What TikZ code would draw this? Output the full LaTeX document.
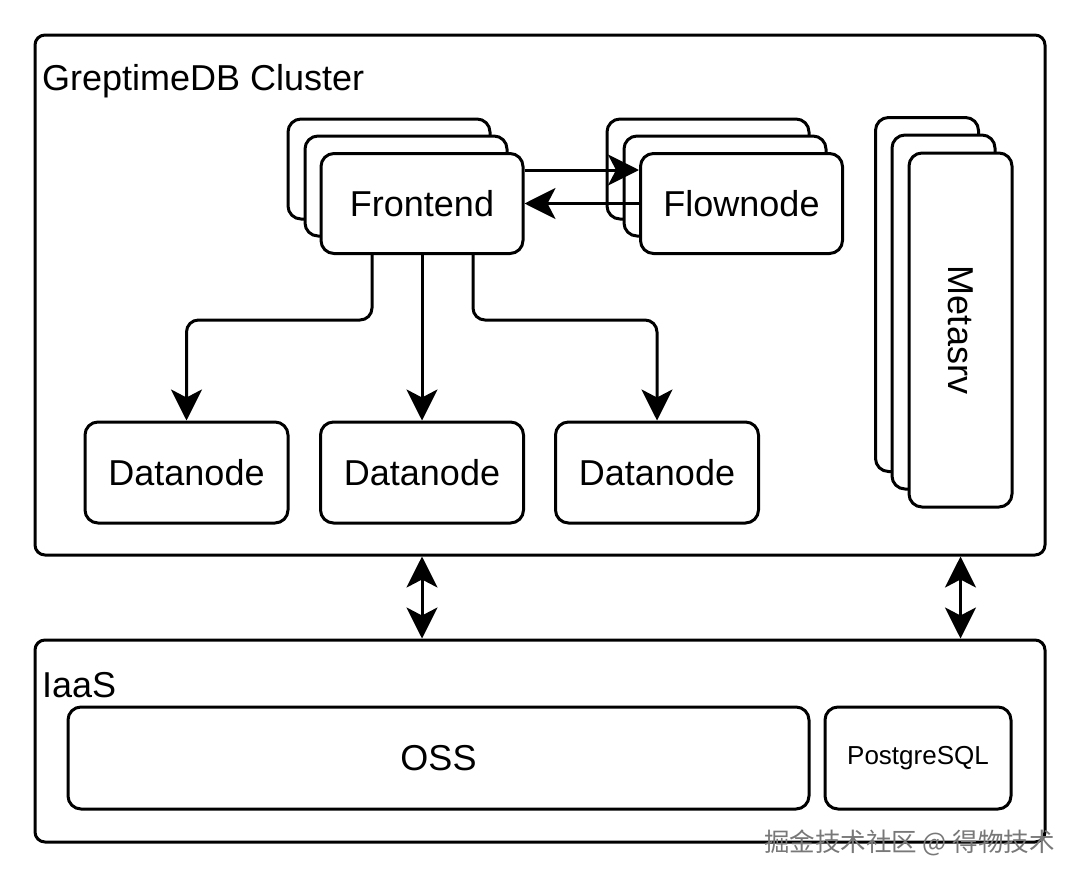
\documentclass[tikz,border=0pt]{standalone}
\usepackage{fontspec}
\setmainfont{Liberation Sans}
\newfontfamily\cjkfont{Noto Sans CJK SC}
\usetikzlibrary{arrows.meta}
\definecolor{wmgray}{RGB}{120,120,120}
\begin{document}
\begin{tikzpicture}[x=1pt,y=-1pt,
  box/.style={draw=black, line width=3pt, fill=white, rounded corners=13pt, inner sep=0pt,
    font=\fontsize{36}{43}\selectfont},
  stackbox/.style={box, minimum width=202pt, minimum height=100pt},
  metabox/.style={box, minimum width=103pt, minimum height=354pt},
  databox/.style={box, minimum width=203pt, minimum height=101pt},
  groupbox/.style={draw=black, line width=3pt, rounded corners=10pt, inner sep=0pt,
    minimum width=1010pt},
  grouplabel/.style={anchor=base west, inner sep=0pt, font=\fontsize{36}{43}\selectfont},
  arr/.style={line width=3pt, -{Stealth[length=31pt,width=31pt,inset=8pt]}},
  dblarr/.style={line width=3pt, {Stealth[length=31pt,width=31pt,inset=8pt]}-{Stealth[length=31pt,width=31pt,inset=8pt]}}
]
\useasboundingbox (0,0) rectangle (1080,881);
\fill[white] (0,0) rectangle (1080,881);

% groups
\node[groupbox, minimum height=520pt] (cluster) at (540,295) {};
\node[grouplabel] (clusterlbl) at (42,90) {GreptimeDB Cluster};
\node[groupbox, minimum height=202pt] (iaas) at (540,741) {};
\node[grouplabel] (iaaslbl) at (42,697) {IaaS};

% frontend stack
\node[stackbox] (fe3) at (389,169) {};
\node[stackbox] (fe2) at (406,186) {};
\node[stackbox] (fe) at (422,203.5) {Frontend};

% flownode stack
\node[stackbox] (fl3) at (708,169) {};
\node[stackbox] (fl2) at (725,186) {};
\node[stackbox] (fl) at (741.5,203.5) {Flownode};

% metasrv stack
\node[metabox] (ms3) at (927,294.5) {};
\node[metabox] (ms2) at (943.5,312) {};
\node[metabox] (ms) at (960.5,330) {};
\node[rotate=-90, inner sep=0pt, font=\fontsize{36}{43}\selectfont] (mslbl) at (ms.center) {Metasrv};

% datanodes
\node[databox] (dn1) at (186.5,472.5) {Datanode};
\node[databox] (dn2) at (422,472.5) {Datanode};
\node[databox] (dn3) at (657,472.5) {Datanode};

% iaas contents
\node[box, minimum width=741pt, minimum height=102pt] (oss) at (438.5,758) {OSS};
\node[box, minimum width=186pt, minimum height=102pt, font=\fontsize{26}{31}\selectfont] (pg) at (918,758) {PostgreSQL};

% connectors
\draw[arr] ([yshift=33.5pt]fe.east) -- ([yshift=33.5pt]fl.west);
\draw[arr] (fl.west) -- (fe.east);
\draw[arr, rounded corners=12pt] ([xshift=-50pt]fe.south) -- ++(0,65) -| (dn1.north);
\draw[arr] (fe.south) -- (dn2.north);
\draw[arr, rounded corners=12pt] ([xshift=51pt]fe.south) -- ++(0,65) -| (dn3.north);
\draw[dblarr] (cluster.south -| dn2.center) -- (iaas.north -| dn2.center);
\draw[dblarr] (cluster.south -| ms.center) -- (iaas.north -| ms.center);

% watermark
\node[anchor=base east, inner sep=0pt, text=wmgray, font=\cjkfont\fontsize{25.5}{30}\selectfont] (wm) at (1055,851) {掘金技术社区 @ 得物技术};
\end{tikzpicture}
\end{document}
